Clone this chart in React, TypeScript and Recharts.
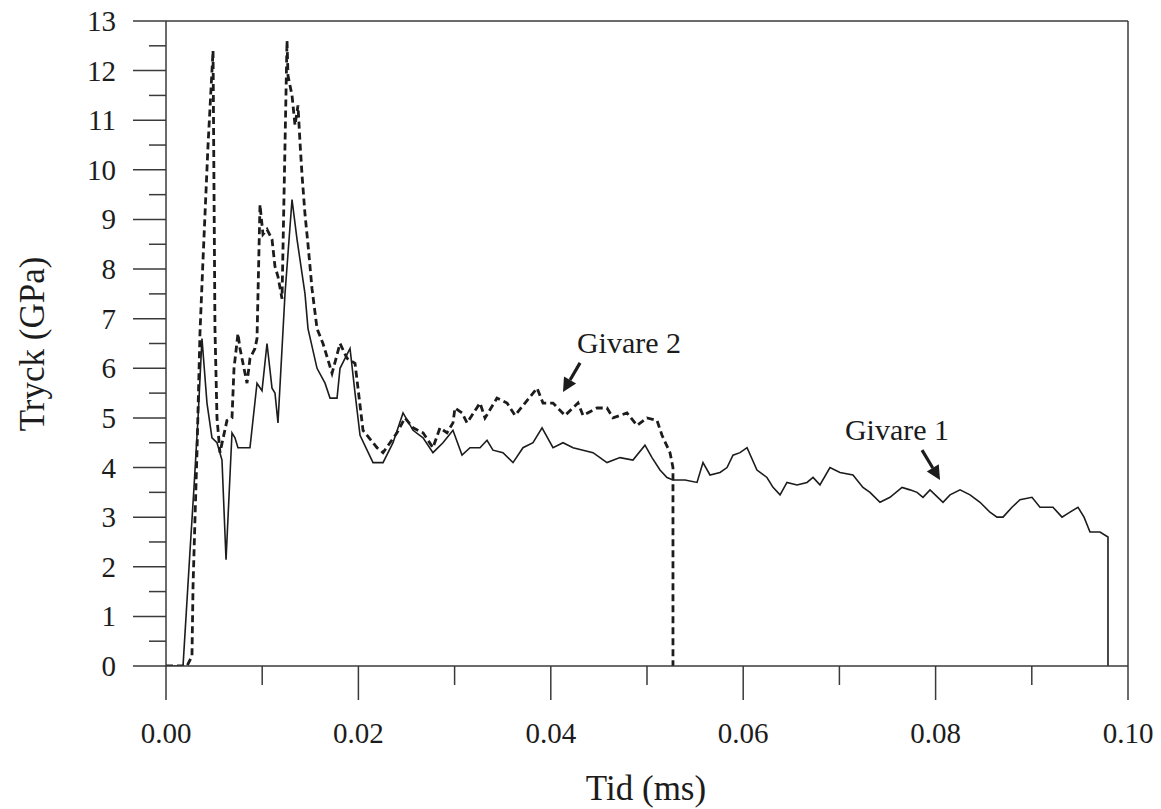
import { LineChart, Line, XAxis, YAxis, ReferenceLine, ReferenceDot, Label } from 'recharts';

// Givare 1 (solid) - time in ms, pressure in GPa
const g1Time = [
  0, 0.00177, 0.00249, 0.00291, 0.00333, 0.00374, 0.00426, 0.00478, 0.0053, 0.00582,
  0.00624, 0.00686, 0.00717, 0.00748, 0.0079, 0.00873, 0.00946, 0.00998, 0.0105, 0.01102,
  0.01133, 0.01164, 0.01237, 0.0131, 0.01362, 0.01445, 0.01476, 0.0157, 0.01653, 0.01705,
  0.01778, 0.01809, 0.01913, 0.01965, 0.02017, 0.02152, 0.02256, 0.0236, 0.02464, 0.02568,
  0.02672, 0.02775, 0.02879, 0.02983, 0.03077, 0.0316, 0.03264, 0.03337, 0.03399, 0.03503,
  0.03607, 0.03711, 0.03815, 0.03909, 0.04023, 0.04127, 0.04231, 0.04335, 0.04439, 0.04511,
  0.04584, 0.04719, 0.04854, 0.04979, 0.05052, 0.05135, 0.05208, 0.0527, 0.05395, 0.0552,
  0.05582, 0.05655, 0.05759, 0.05832, 0.05894, 0.05967, 0.0604, 0.06143, 0.06247, 0.0631,
  0.06383, 0.06455, 0.06559, 0.06663, 0.06726, 0.06798, 0.06902, 0.07006, 0.07141, 0.07245,
  0.07318, 0.07422, 0.07526, 0.07651, 0.07734, 0.07807, 0.07869, 0.07942, 0.08077, 0.0815,
  0.08254, 0.08358, 0.08462, 0.08565, 0.08638, 0.08701, 0.08794, 0.08877, 0.09002, 0.09085,
  0.0922, 0.09314, 0.09397, 0.0948, 0.09543, 0.09605, 0.09709, 0.09792, 0.09792,
];
const g1Value = [
  0, 0, 2.3, 3.6, 5.0, 6.6, 5.3, 4.6, 4.5, 4.15,
  2.14, 4.7, 4.6, 4.4, 4.4, 4.4, 5.7, 5.55, 6.5, 5.6,
  5.5, 4.9, 7.5, 9.4, 8.6, 7.5, 6.8, 6.0, 5.7, 5.4,
  5.4, 6.0, 6.4, 5.5, 4.65, 4.1, 4.1, 4.5, 5.1, 4.75,
  4.6, 4.3, 4.5, 4.75, 4.25, 4.4, 4.4, 4.55, 4.35, 4.3,
  4.1, 4.4, 4.5, 4.8, 4.4, 4.5, 4.4, 4.35, 4.3, 4.2,
  4.1, 4.2, 4.15, 4.45, 4.2, 3.95, 3.8, 3.75, 3.75, 3.7,
  4.1, 3.85, 3.9, 4.0, 4.25, 4.3, 4.4, 3.95, 3.8, 3.6,
  3.45, 3.7, 3.65, 3.7, 3.8, 3.65, 4.0, 3.9, 3.85, 3.6,
  3.5, 3.3, 3.4, 3.6, 3.55, 3.5, 3.4, 3.55, 3.3, 3.45,
  3.55, 3.45, 3.3, 3.1, 3.0, 3.0, 3.2, 3.35, 3.4, 3.2,
  3.2, 3.0, 3.1, 3.2, 3.0, 2.7, 2.7, 2.6, 0,
];

// Givare 2 (dashed)
const g2Time = [
  0, 0.00218, 0.0027, 0.00281, 0.00301, 0.00322, 0.00353, 0.00385, 0.00437, 0.00489,
  0.00509, 0.0053, 0.00561, 0.00634, 0.00686, 0.00707, 0.00748, 0.00769, 0.00842, 0.00873,
  0.00925, 0.00946, 0.00977, 0.01008, 0.0105, 0.01102, 0.01133, 0.01164, 0.01206, 0.01258,
  0.01268, 0.0131, 0.01341, 0.01372, 0.01393, 0.01414, 0.01445, 0.01476, 0.01518, 0.0157,
  0.01632, 0.01726, 0.01809, 0.01882, 0.01965, 0.02048, 0.02193, 0.02256, 0.02401, 0.02484,
  0.02568, 0.02672, 0.02775, 0.02848, 0.02921, 0.02983, 0.03004, 0.03077, 0.03129, 0.03264,
  0.03316, 0.03441, 0.03545, 0.03628, 0.03711, 0.03857, 0.03919, 0.04023, 0.04148, 0.04283,
  0.04335, 0.0448, 0.04584, 0.04647, 0.04792, 0.04896, 0.05, 0.05104, 0.05156, 0.05239,
  0.0527, 0.0527,
];
const g2Value = [
  0, 0, 0.2, 1.6, 2.95, 4.3, 6.7, 8.2, 10.5, 12.4,
  6.8, 5.0, 4.3, 4.95, 5.0, 6.0, 6.7, 6.4, 5.7, 6.2,
  6.4, 6.6, 9.3, 8.7, 8.8, 8.6, 8.05, 7.85, 7.4, 12.6,
  11.9, 11.5, 10.9, 11.3, 10.55, 9.9, 9.1, 8.5, 7.6, 6.8,
  6.5, 5.9, 6.5, 6.2, 6.1, 4.75, 4.4, 4.3, 4.7, 5.0,
  4.8, 4.7, 4.4, 4.8, 4.7, 4.9, 5.2, 5.1, 4.9, 5.3,
  5.0, 5.4, 5.3, 5.05, 5.25, 5.6, 5.3, 5.3, 5.05, 5.3,
  5.05, 5.2, 5.2, 5.0, 5.1, 4.85, 5.0, 4.95, 4.65, 4.3,
  4.0, 0,
];

const xTicks = [0, 0.01, 0.02, 0.03, 0.04, 0.05, 0.06, 0.07, 0.08, 0.09, 0.1];
const yTicks = Array.from({ length: 27 }, (_, i) => i * 0.5);

const g1Data = g1Time.map((t, i) => ({ t, p: g1Value[i] }));
const g2Data = g2Time.map((t, i) => ({ t, p: g2Value[i] }));

const FONT = "'Liberation Serif', 'Times New Roman', 'DejaVu Serif', serif";
const AXIS = '#3a3a3a';
const INK = '#1c1c1c';
const txt = (size: number) => ({ fontFamily: FONT, fontSize: size });

const XTick = ({ x, y, payload }: any) => {
  const major = Math.round(payload.value * 100) % 2 === 0;
  return (
    <g>
      <line x1={x} y1={y} x2={x} y2={y + (major ? 34 : 19)} stroke={AXIS} strokeWidth={1.5} />
      {major && (
        <text x={x} y={y + 77} textAnchor="middle" fill={INK} style={txt(29)}>
          {payload.value.toFixed(2)}
        </text>
      )}
    </g>
  );
};

const YTick = ({ x, y, payload }: any) => {
  const major = Math.abs(payload.value - Math.round(payload.value)) < 1e-6;
  return (
    <g>
      <line x1={x - (major ? 33 : 17)} y1={y} x2={x} y2={y} stroke={AXIS} strokeWidth={1.5} />
      {major && (
        <text x={x - 50} y={y + 10} textAnchor="end" fill={INK} style={txt(29)}>
          {payload.value}
        </text>
      )}
    </g>
  );
};

const Arrow = ({ x1, y1, x2, y2 }: any) => {
  const a = Math.atan2(y2 - y1, x2 - x1);
  const L = 14;
  const W = 7;
  const bx = x2 - L * Math.cos(a);
  const by = y2 - L * Math.sin(a);
  const pts = [
    `${x2},${y2}`,
    `${bx + W * Math.sin(a)},${by - W * Math.cos(a)}`,
    `${bx - W * Math.sin(a)},${by + W * Math.cos(a)}`,
  ].join(' ');
  return (
    <g>
      <line x1={x1} y1={y1} x2={bx} y2={by} stroke={INK} strokeWidth={3.2} />
      <polygon points={pts} fill={INK} />
    </g>
  );
};

const annot = (text: string) => ({ cx, cy }: any) => (
  <text x={cx} y={cy} textAnchor="middle" fill={INK} style={txt(30)}>
    {text}
  </text>
);

export default function App() {
  return (
    <div style={{ position: 'absolute', left: 0, top: 0, background: '#fff' }}>
      <LineChart width={1161} height={809} margin={{ top: 21, right: 33, left: 36, bottom: 13 }}>
        <XAxis
          dataKey="t"
          type="number"
          domain={[0, 0.1]}
          ticks={xTicks}
          interval={0}
          tickSize={0}
          tickMargin={0}
          tickLine={false}
          tick={XTick}
          height={130}
          axisLine={{ stroke: AXIS, strokeWidth: 1.5 }}
          allowDataOverflow
        >
          <Label
            content={() => (
              <text x={646} y={800} textAnchor="middle" fill={INK} style={txt(35)}>
                Tid (ms)
              </text>
            )}
          />
        </XAxis>
        <YAxis
          type="number"
          domain={[0, 13]}
          ticks={yTicks}
          interval={0}
          tickSize={0}
          tickMargin={0}
          tickLine={false}
          tick={YTick}
          width={130}
          axisLine={{ stroke: AXIS, strokeWidth: 1.5 }}
          allowDataOverflow
        >
          <Label
            content={() => (
              <text
                x={44}
                y={344}
                textAnchor="middle"
                fill={INK}
                style={txt(35)}
                transform="rotate(-90 44 344)"
              >
                Tryck (GPa)
              </text>
            )}
          />
        </YAxis>
        <ReferenceLine y={13} stroke={AXIS} strokeWidth={1.5} />
        <ReferenceLine x={0.1} stroke={AXIS} strokeWidth={1.5} />
        <Line
          data={g2Data}
          dataKey="p"
          type="linear"
          stroke={INK}
          strokeWidth={2.8}
          strokeDasharray="7 4"
          dot={false}
          activeDot={false}
          isAnimationActive={false}
        />
        <Line
          data={g1Data}
          dataKey="p"
          type="linear"
          stroke={INK}
          strokeWidth={1.6}
          dot={false}
          activeDot={false}
          isAnimationActive={false}
        />
        <ReferenceLine
          segment={[{ x: 0.04304, y: 6.11 }, { x: 0.04127, y: 5.52 }]}
          shape={Arrow}
        />
        <ReferenceLine
          segment={[{ x: 0.07859, y: 4.35 }, { x: 0.08046, y: 3.75 }]}
          shape={Arrow}
        />
        <ReferenceDot x={0.04813} y={6.31} r={1} shape={annot('Givare 2')} />
        <ReferenceDot x={0.07599} y={4.56} r={1} shape={annot('Givare 1')} />
      </LineChart>
    </div>
  );
}
